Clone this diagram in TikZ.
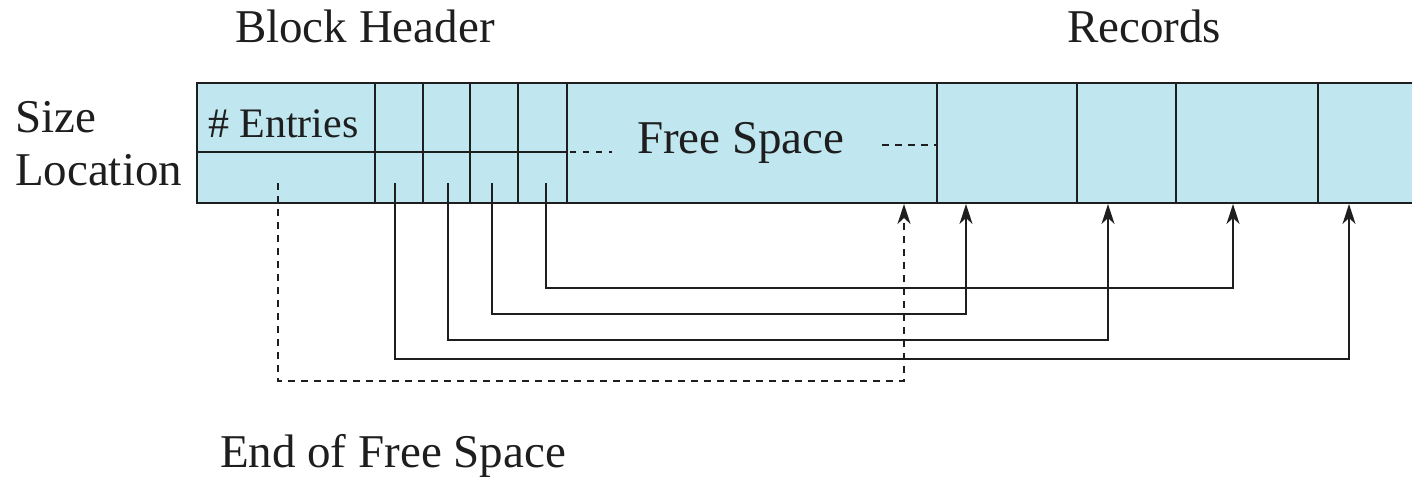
\documentclass[tikz,border=0pt]{standalone}
\usepackage{fontspec}
\setmainfont{Liberation Serif}
\usetikzlibrary{arrows.meta}
\definecolor{cellblue}{RGB}{192,230,240}
\definecolor{ink}{RGB}{30,30,30}
\begin{document}
\begin{tikzpicture}[x=1pt,y=-1pt,
  lbl/.style={inner sep=0pt,outer sep=0pt,anchor=base west,text=ink,font=\fontsize{47}{52}\selectfont},
  ptr/.style={draw=ink,line width=1.4pt,-{Stealth[length=20pt,width=13pt,inset=6pt]}},
  dptr/.style={ptr,dash pattern=on 7pt off 6pt}]
\useasboundingbox (0,0) rectangle (1412,479);
% block body
\fill[cellblue] (197,83) rectangle (1420,203);
\draw[ink,line width=2pt] (1420,83) -- (197,83) -- (197,203) -- (1420,203);
% header grid
\draw[ink,line width=1.6pt] (197,152) -- (567,152);
\foreach \xx in {375,423,470,518,567,937,1077,1176,1318}
  \draw[ink,line width=1.6pt] (\xx,83) -- (\xx,203);
% dashed continuations of free space
\draw[ink,line width=1.4pt,dash pattern=on 6pt off 7pt] (570,152) -- (612,152);
\draw[ink,line width=1.4pt,dash pattern=on 7pt off 6pt] (882,145) -- (937,145);
% texts
\node[lbl] (bh) at (235,42) {Block Header};
\node[lbl] (rec) at (1067,42) {Records};
\node[lbl] (size) at (15,132) {Size};
\node[lbl] (loc) at (15,185) {Location};
\node[lbl,font=\fontsize{42}{46}\selectfont] (ent) at (208,137) {\# Entries};
\node[lbl] (fs) at (637,153) {Free Space};
\node[lbl] (eofs) at (220,467) {End of Free Space};
% pointer sources (bottom halves of header cells)
\coordinate (sE) at (278,183);
\coordinate (s1) at (395,183);
\coordinate (s2) at (448,183);
\coordinate (s3) at (492,183);
\coordinate (s4) at (546,183);
% targets
\coordinate (tF) at (904,204);
\coordinate (t1) at (966,204);
\coordinate (t2) at (1108,204);
\coordinate (t3) at (1233,204);
\coordinate (t4) at (1349,204);
% connectors
\draw[ptr] (s4) |- (1000,288) -| (t3);
\draw[ptr] (s3) |- (700,314) -| (t1);
\draw[ptr] (s2) |- (800,340) -| (t2);
\draw[ptr] (s1) |- (900,359) -| (t4);
\draw[dptr] (sE) |- (600,381) -| (tF);
\end{tikzpicture}
\end{document}
